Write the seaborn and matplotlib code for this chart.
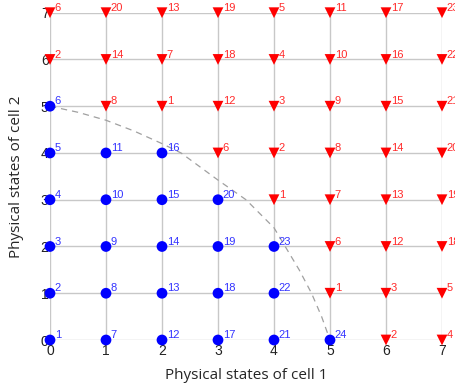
import numpy as np
import pandas as pd
import seaborn as sns
import matplotlib.pyplot as plt

# states reachable (blue) and not reachable (red), with their index labels
blue_x = [0, 1, 2, 3, 4, 5,
          0, 1, 2, 3, 4,
          0, 1, 2, 3, 4,
          0, 1, 2, 3,
          0, 1, 2,
          0]
blue_y = [0, 0, 0, 0, 0, 0,
          1, 1, 1, 1, 1,
          2, 2, 2, 2, 2,
          3, 3, 3, 3,
          4, 4, 4,
          5]
blue_lab = [1, 7, 12, 17, 21, 24,
            2, 8, 13, 18, 22,
            3, 9, 14, 19, 23,
            4, 10, 15, 20,
            5, 11, 16,
            6]

red_x = [0, 1, 2, 3, 4, 5, 6, 7,
         0, 1, 2, 3, 4, 5, 6, 7,
         1, 2, 3, 4, 5, 6, 7,
         3, 4, 5, 6, 7,
         4, 5, 6, 7,
         5, 6, 7,
         5, 6, 7,
         6, 7]
red_y = [7] * 8 + [6] * 8 + [5] * 7 + [4] * 5 + [3] * 4 + [2] * 3 + [1] * 3 + [0] * 2
red_lab = [6, 20, 13, 19, 5, 11, 17, 23,
           2, 14, 7, 18, 4, 10, 16, 22,
           8, 1, 12, 3, 9, 15, 21,
           6, 2, 8, 14, 20,
           1, 7, 13, 19,
           6, 12, 18,
           1, 3, 5,
           2, 4]

# boundary curve
curve_x = [0, 0.5, 1, 1.5, 2, 2.34, 3, 3.5, 4, 4.2, 4.45, 4.67, 4.85, 5]
curve_y = [5, 4.87, 4.7, 4.47, 4.2, 4.0, 3.42, 3.0, 2.4, 2.0, 1.5, 1.0, 0.5, 0]

ticks = list(range(8))

df = pd.DataFrame({
    'x': blue_x + red_x,
    'y': blue_y + red_y,
    'lab': blue_lab + red_lab,
    'kind': ['in'] * len(blue_x) + ['out'] * len(red_x),
})

sns.set_style('white')
plt.rcParams['font.family'] = ['Liberation Sans', 'DejaVu Sans']

fig = plt.figure(figsize=(4.56, 3.88), dpi=100)
ax = fig.add_axes([50 / 456, 48 / 388, 392 / 456, 327.3 / 388])

for t in ticks:
    ax.axhline(t, color='#c8c8c8', lw=1, zorder=0)
    ax.axvline(t, color='#c8c8c8', lw=1, zorder=0)

ax.plot(curve_x, curve_y, ls=(0, (5, 4)), color='#a0a0a0', lw=0.9, zorder=1)

sns.scatterplot(data=df, x='x', y='y', hue='kind', style='kind',
                palette={'in': '#0000ff', 'out': '#ff0000'},
                markers={'in': 'o', 'out': 'v'}, s=60, linewidth=0,
                legend=False, ax=ax, clip_on=False, zorder=3)

colors = {'in': '#3333ff', 'out': '#ff2a2a'}
for _, r in df.iterrows():
    ax.annotate(str(r['lab']), (r['x'], r['y']), xytext=(3.5, 3.5),
                textcoords='offset points', ha='left', va='center',
                fontsize=8, color=colors[r['kind']], annotation_clip=False)

ax.set_xlim(0, 7)
ax.set_ylim(0, 7)
ax.set_xticks(ticks)
ax.set_yticks(ticks)
ax.tick_params(length=0, pad=1, labelsize=10, labelcolor='#222222')
ax.tick_params(axis='x', pad=3)
for s in ax.spines.values():
    s.set_visible(False)

ax.set_xlabel('Physical states of cell 1', fontsize=11, family='Open Sans', labelpad=7)
ax.set_ylabel('Physical states of cell 2', fontsize=11, family='Open Sans', labelpad=12)

fig.savefig('out.png', dpi=100)
